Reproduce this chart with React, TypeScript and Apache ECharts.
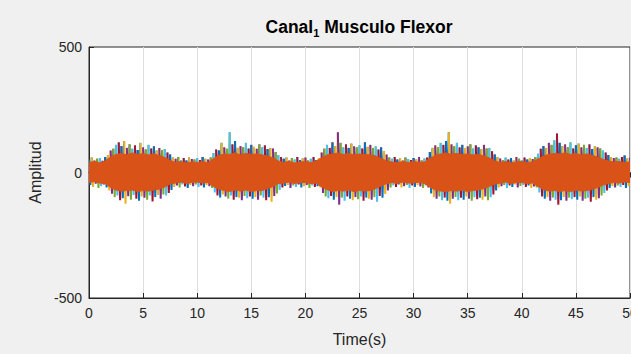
import React, { useEffect, useRef } from "react";
import * as echarts from "echarts";

// Time axis ticks
const xTicks = [0, 5, 10, 15, 20, 25, 30, 35, 40, 45, 50];

// Outer coloured spikes (sampled every 0.25 s), upper and lower excursions
const fringeHi = [
  52, 60, 48, 55, 58, 47, 62, 70, 88, 95, 110, 120, 105, 125, 98, 112,
  95, 108, 90, 118, 100, 92, 110, 96, 104, 88, 98, 90, 94, 80, 72, 60,
  55, 62, 50, 58, 48, 60, 54, 52, 58, 50, 62, 55, 52, 60, 78, 92,
  88, 118, 100, 95, 160, 112, 125, 98, 105, 100, 118, 96, 110, 102, 95, 112,
  100, 108, 94, 98, 96, 82, 70, 62, 55, 60, 48, 58, 52, 62, 50, 56,
  60, 48, 55, 62, 50, 58, 80, 95, 110, 98, 120, 105, 160, 118, 100, 112,
  98, 115, 104, 100, 108, 96, 120, 102, 110, 98, 104, 92, 100, 86, 72, 60,
  55, 62, 52, 58, 48, 60, 54, 50, 58, 52, 62, 48, 56, 60, 82, 98,
  108, 100, 118, 110, 125, 160, 112, 104, 118, 100, 110, 98, 104, 112, 96, 108,
  100, 94, 110, 96, 98, 85, 72, 62, 56, 50, 60, 52, 58, 48, 62, 55,
  50, 60, 52, 58, 54, 62, 75, 95, 105, 98, 118, 110, 128, 155, 118, 105,
  112, 100, 120, 96, 108, 115, 100, 110, 98, 112, 94, 104, 100, 96, 88, 80,
  70, 62, 58, 60, 55, 62, 68, 56, 60,
];
const fringeLo = [
  -50, -58, -45, -62, -55, -48, -60, -72, -85, -98, -92, -110, -102, -124, -95, -108,
  -90, -104, -112, -96, -100, -108, -92, -115, -98, -90, -104, -88, -92, -82, -70, -58,
  -52, -60, -48, -56, -62, -50, -55, -48, -58, -52, -60, -50, -55, -62, -80, -92,
  -100, -88, -96, -104, -92, -108, -98, -100, -110, -94, -102, -96, -104, -98, -108, -92,
  -100, -110, -98, -116, -94, -84, -70, -60, -54, -50, -62, -52, -58, -48, -60, -55,
  -50, -62, -52, -58, -55, -60, -82, -96, -102, -94, -108, -98, -128, -100, -112, -96,
  -104, -110, -98, -106, -96, -112, -100, -104, -108, -98, -116, -94, -100, -86, -72, -60,
  -52, -58, -48, -60, -55, -50, -62, -52, -58, -50, -56, -62, -52, -60, -84, -98,
  -104, -96, -110, -100, -112, -124, -104, -98, -110, -100, -108, -96, -104, -112, -98, -106,
  -100, -108, -96, -110, -98, -88, -72, -60, -55, -50, -62, -52, -58, -48, -60, -54,
  -50, -58, -52, -62, -56, -60, -80, -96, -104, -98, -112, -100, -108, -128, -110, -98,
  -112, -100, -106, -98, -108, -96, -112, -104, -100, -116, -98, -108, -102, -92, -82, -72,
  -62, -55, -60, -52, -58, -50, -62, -55, -58,
];
const FRINGE_STEP = 0.25;

// Dense orange channel envelope (sampled every 0.5 s)
const orangeHi = [
  40, 44, 38, 46, 62, 72, 76, 70, 78, 72, 75, 70, 74, 68, 60, 48,
  40, 44, 38, 42, 40, 44, 38, 55, 68, 74, 72, 78, 70, 76, 72, 74,
  70, 66, 58, 46, 40, 44, 38, 42, 44, 40, 46, 58, 70, 74, 78, 72,
  76, 70, 74, 72, 70, 66, 56, 46, 42, 38, 44, 40, 44, 40, 42, 56,
  68, 74, 78, 72, 76, 72, 74, 70, 72, 66, 58, 46, 40, 44, 38, 42,
  44, 40, 42, 54, 66, 72, 76, 74, 78, 72, 76, 70, 74, 68, 62, 52,
  46, 42, 44, 40, 42,
];
const orangeLo = [
  -40, -36, -42, -44, -60, -70, -74, -72, -70, -76, -72, -74, -70, -66, -58, -46,
  -42, -38, -44, -40, -38, -42, -40, -56, -66, -72, -76, -70, -74, -70, -76, -72,
  -72, -64, -56, -44, -42, -38, -44, -40, -40, -44, -42, -58, -68, -76, -72, -74,
  -70, -76, -72, -74, -72, -64, -54, -44, -40, -44, -38, -42, -42, -38, -44, -58,
  -70, -74, -76, -72, -74, -70, -76, -72, -70, -64, -56, -46, -42, -38, -44, -40,
  -40, -44, -42, -56, -68, -74, -72, -76, -72, -76, -70, -74, -72, -68, -60, -50,
  -44, -40, -42, -38, -40,
];
const ORANGE_STEP = 0.5;

const PALETTE = ["#0072BD", "#EDB120", "#7E2F8E", "#77AC30", "#4DBEEE", "#A2142F"];
const ORANGE = "#D95319";
const TXT = "#262626";

export default function App() {
  const ref = useRef<HTMLDivElement>(null);
  useEffect(() => {
    document.body.style.margin = "0";
    const chart = echarts.init(ref.current!, null, { renderer: "svg" });
    const fringeData = fringeHi.map((h, i) => [
      i * FRINGE_STEP,
      fringeLo[i],
      h,
      i,
      i + 1 < fringeHi.length ? fringeHi[i + 1] : h,
    ]);
    const option: any = {
      animation: false,
      backgroundColor: "#F0F0F0",
      title: {
        text: "{a|Canal}{s|1}{a| Musculo Flexor}",
        left: 354,
        top: 11,
        textAlign: "center",
        textStyle: {
          rich: {
            a: { fontFamily: "Liberation Sans", fontSize: 17.5, fontWeight: "bold", color: "#000" },
            s: {
              fontFamily: "Liberation Sans",
              fontSize: 11,
              fontWeight: "bold",
              color: "#000",
              padding: [11, 0, 0, 0],
            },
          },
        },
      },
      grid: {
        left: 89,
        right: 1,
        top: 47,
        bottom: 56,
        outerBoundsMode: "none",
        containLabel: false,
        show: true,
        backgroundColor: "#FFFFFF",
        borderColor: TXT,
        borderWidth: 1,
      },
      xAxis: [
        {
          type: "value",
          min: 0,
          max: 50,
          interval: 5,
          name: "Time(s)",
          nameLocation: "middle",
          nameGap: 33,
          nameTextStyle: { fontFamily: "Liberation Sans", fontSize: 16, color: TXT },
          axisLine: { show: true, onZero: false, lineStyle: { color: TXT } },
          axisTick: { show: true, inside: true, length: 5, lineStyle: { color: TXT } },
          axisLabel: {
            fontFamily: "Liberation Sans",
            fontSize: 14,
            color: TXT,
            margin: 8,
            customValues: xTicks,
            hideOverlap: false,
          },
          splitLine: { show: true, lineStyle: { color: "#DEDEDE", width: 1 } },
        },
        {
          type: "value",
          position: "top",
          min: 0,
          max: 50,
          interval: 5,
          axisLine: { show: true, lineStyle: { color: TXT } },
          axisTick: { show: true, inside: true, length: 5, lineStyle: { color: TXT } },
          axisLabel: { show: false },
          splitLine: { show: false },
        },
      ],
      yAxis: {
        type: "value",
        min: -500,
        max: 500,
        interval: 500,
        name: "Amplitud",
        nameLocation: "middle",
        nameGap: 44,
        nameTextStyle: { fontFamily: "Liberation Sans", fontSize: 16, color: TXT },
        axisLine: { show: true, onZero: false, lineStyle: { color: TXT } },
        axisTick: { show: true, inside: true, length: 5, lineStyle: { color: TXT } },
        axisLabel: { fontFamily: "Liberation Sans", fontSize: 14, color: TXT, margin: 7 },
        splitLine: { show: false },
      },
      series: [
        {
          type: "custom",
          clip: true,
          data: fringeData,
          encode: { x: 0, y: [1, 2] },
          renderItem: (_p: any, api: any) => {
            const t = api.value(0);
            const lo = api.value(1);
            const hi = api.value(2);
            const i = api.value(3);
            const hiNext = api.value(4);
            const pA = api.coord([t, hi]);
            const pB = api.coord([t + FRINGE_STEP / 2, lo]);
            const pC = api.coord([t + FRINGE_STEP, hiNext]);
            return {
              type: "polyline",
              shape: { points: [pA, pB, pC] },
              style: { stroke: PALETTE[i % 6], lineWidth: 2, fill: null },
            };
          },
        },
        {
          type: "custom",
          clip: true,
          data: [[0, 0]],
          encode: { x: 0, y: 1 },
          renderItem: (_p: any, api: any) => {
            const pts: number[][] = [];
            orangeHi.forEach((v, i) => pts.push(api.coord([i * ORANGE_STEP, v])));
            for (let i = orangeLo.length - 1; i >= 0; i--) {
              pts.push(api.coord([i * ORANGE_STEP, orangeLo[i]]));
            }
            return {
              type: "polygon",
              shape: { points: pts },
              style: { fill: ORANGE, stroke: ORANGE, lineWidth: 1 },
            };
          },
        },
      ],
    };
    chart.setOption(option);
    return () => chart.dispose();
  }, []);
  return (
    <div
      ref={ref}
      style={{ position: "absolute", left: 0, top: 0, width: 631, height: 354 }}
    />
  );
}
